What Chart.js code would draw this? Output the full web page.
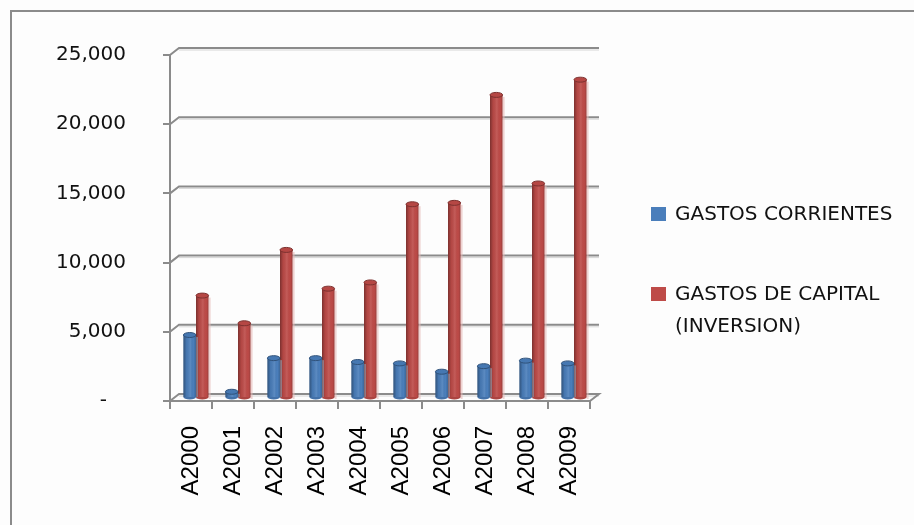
<!DOCTYPE html>
<html>
<head>
<meta charset="utf-8">
<script src="https://cdn.jsdelivr.net/npm/chart.js@4.4.0/dist/chart.umd.min.js"></script>
<style>
  html, body { margin: 0; padding: 0; background: #fdfdfd; overflow: hidden; }
  #wrap { position: relative; width: 914px; height: 525px; overflow: hidden; }
  #chart { position: absolute; left: 0; top: 0; }
  #legend { position: absolute; left: 651px; top: 197px; font-family: 'DejaVu Sans', sans-serif;
            font-size: 20px; color: #111; }
  .item { display: flex; align-items: flex-start; }
  .item + .item { margin-top: 48px; }
  .swatch { width: 15px; height: 14px; margin-top: 10px; margin-right: 9px; flex: none; }
  .txt { width: 235px; line-height: 32px; }
</style>
</head>
<body>
<div id="wrap">
  <canvas id="chart" width="914" height="525"></canvas>
  <div id="legend"></div>
</div>
<script>
/* Gastos corrientes vs. gastos de capital, 2000-2009 */
const years = ['A2000', 'A2001', 'A2002', 'A2003', 'A2004', 'A2005', 'A2006', 'A2007', 'A2008', 'A2009'];
const gastosCorrientes = [4550, 450, 2880, 2880, 2600, 2500, 1900, 2300, 2700, 2500];
const gastosCapital    = [7400, 5400, 10700, 7900, 8350, 14000, 14100, 21900, 15500, 23000];
const yTicks = [0, 5000, 10000, 15000, 20000, 25000];

const seriesNames  = ['GASTOS CORRIENTES', 'GASTOS DE CAPITAL (INVERSION)'];
const seriesColors = ['#4a7ebb', '#be4b48'];

const GRID = '#8b8b8b';
const WALL_DX = 9, WALL_DY = 7;   // back wall offset
const BAR_DX = 5,  BAR_DY = 3;    // columns sit half way into the floor

function shade(hex, f) {
  const n = parseInt(hex.slice(1), 16);
  const c = [n >> 16, (n >> 8) & 255, n & 255].map(v =>
    Math.round(f < 0 ? v * (1 + f) : v + (255 - v) * f));
  return `rgb(${c[0]},${c[1]},${c[2]})`;
}

// outer frame (only top and left edges fall inside the canvas)
const frame = {
  id: 'frame',
  beforeDraw(chart) {
    const { ctx, width, height } = chart;
    ctx.save();
    ctx.strokeStyle = GRID;
    ctx.lineWidth = 2;
    ctx.beginPath();
    ctx.moveTo(11, height);
    ctx.lineTo(11, 11);
    ctx.lineTo(width, 11);
    ctx.stroke();
    ctx.restore();
  }
};

// walls, floor and the cylinder look of the columns
const depth3d = {
  id: 'depth3d',
  beforeDatasetsDraw(chart) {
    const { ctx, chartArea: a, scales: { y } } = chart;
    ctx.save();
    y.ticks.forEach(t => {
      const py = y.getPixelForValue(t.value);
      ctx.beginPath();
      ctx.strokeStyle = '#d6d6d6';
      ctx.lineWidth = 1;
      ctx.moveTo(a.left + WALL_DX, py - WALL_DY + 2);
      ctx.lineTo(a.right + WALL_DX, py - WALL_DY + 2);
      ctx.stroke();
      ctx.beginPath();
      ctx.strokeStyle = GRID;
      ctx.lineWidth = 2;
      ctx.moveTo(a.left, py);
      ctx.lineTo(a.left + WALL_DX, py - WALL_DY);
      ctx.lineTo(a.right + WALL_DX, py - WALL_DY);
      if (t.value === 0) ctx.lineTo(a.right, py);
      ctx.stroke();
    });
    ctx.restore();
    ctx.save();
    ctx.translate(BAR_DX, -BAR_DY);
  },
  afterDatasetsDraw(chart) {
    const { ctx } = chart;
    chart.data.datasets.forEach((ds, di) => {
      const col = seriesColors[di];
      chart.getDatasetMeta(di).data.forEach(el => {
        const w = el.width, l = el.x - w / 2, top = el.y, h = el.base - el.y;
        // soft halo on the right side
        ctx.fillStyle = shade(col, 0.6);
        ctx.globalAlpha = 0.6;
        ctx.fillRect(l + w, top + 2, 2, h);
        ctx.globalAlpha = 1;
        const g = ctx.createLinearGradient(l, 0, l + w, 0);
        g.addColorStop(0, 'rgba(0,0,0,0.35)');
        g.addColorStop(0.25, 'rgba(0,0,0,0.06)');
        g.addColorStop(0.55, 'rgba(255,255,255,0.10)');
        g.addColorStop(0.8, 'rgba(0,0,0,0)');
        g.addColorStop(1, 'rgba(0,0,0,0.18)');
        ctx.fillStyle = g;
        ctx.fillRect(l, top, w, h);
        // rounded foot
        ctx.beginPath();
        ctx.ellipse(el.x, el.base, w / 2, 2.5, 0, 0, Math.PI);
        ctx.fillStyle = shade(col, -0.1);
        ctx.fill();
        // top cap
        ctx.beginPath();
        ctx.ellipse(el.x, top, w / 2, 2.5, 0, 0, Math.PI * 2);
        ctx.fillStyle = shade(col, -0.05);
        ctx.fill();
        ctx.strokeStyle = shade(col, -0.35);
        ctx.lineWidth = 1;
        ctx.stroke();
      });
    });
    ctx.restore();
  }
};

new Chart(document.getElementById('chart'), {
  type: 'bar',
  data: {
    labels: years,
    datasets: [
      { label: seriesNames[0], data: gastosCorrientes, backgroundColor: seriesColors[0] },
      { label: seriesNames[1], data: gastosCapital, backgroundColor: seriesColors[1] },
    ],
  },
  options: {
    responsive: false,
    animation: false,
    categoryPercentage: 0.6,
    barPercentage: 1.0,
    clip: false,
    layout: { padding: { top: 55, right: 324, bottom: 0, left: 0 } },
    plugins: { legend: { display: false }, tooltip: { enabled: false } },
    scales: {
      x: {
        grid: { drawOnChartArea: false, tickLength: 8, color: GRID, lineWidth: 2, offset: true },
        border: { color: GRID, width: 2 },
        ticks: {
          minRotation: 90, maxRotation: 90, padding: 17, color: '#000',
          font: { family: 'Liberation Sans', size: 24 },
        },
        afterFit: s => { s.height = 124; },
      },
      y: {
        min: 0, max: 25000,
        afterBuildTicks: s => { s.ticks = yTicks.map(v => ({ value: v })); },
        grid: { drawOnChartArea: false, tickLength: 7, color: GRID, lineWidth: 2 },
        border: { color: GRID, width: 2 },
        ticks: {
          padding: 37, color: '#111',
          font: { family: 'DejaVu Sans', size: 20 },
          callback: v => v === 0 ? '-   ' : v.toLocaleString('en-US'),
        },
        afterFit: s => { s.width = 170; },
      },
    },
  },
  plugins: [frame, depth3d],
});

// legend on the right
document.getElementById('legend').innerHTML = seriesNames.map((n, i) =>
  `<div class="item"><div class="swatch" style="background:${seriesColors[i]}"></div><div class="txt">${n}</div></div>`
).join('');
</script>
</body>
</html>
